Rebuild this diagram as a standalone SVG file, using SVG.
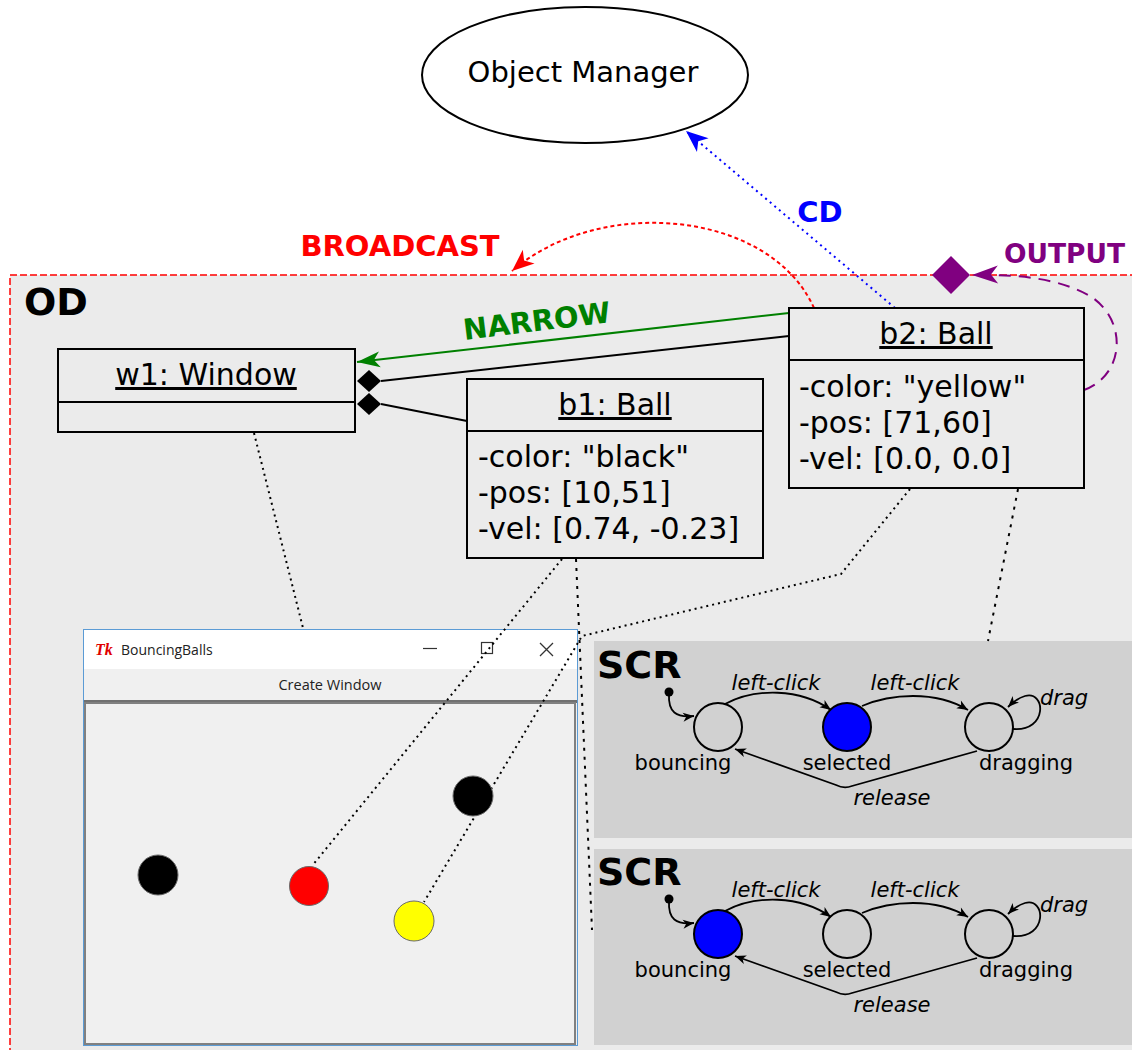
<svg xmlns="http://www.w3.org/2000/svg" width="1132" height="1050" viewBox="0 0 1132 1050">
<defs>
<style>
text{font-family:"DejaVu Sans","Liberation Sans",sans-serif;fill:#000}
.b{font-weight:bold}
.box{fill:#ebebeb;stroke:#000;stroke-width:2}
.n{font-size:30px}
.u{text-decoration:underline}
.dot{fill:none;stroke:#000;stroke-width:2;stroke-dasharray:2 4}
.dsh{fill:none;stroke:#000;stroke-width:2;stroke-dasharray:3 6}
.scrbg{fill:#d1d1d1}
.st{fill:#d1d1d1;stroke:#000;stroke-width:2}
.on{fill:#0000ff}
.se{fill:none;stroke:#000;stroke-width:1.8;marker-end:url(#aS)}
.it{font-style:italic;font-size:21px}
.sl{font-size:21px}
.scr{font-size:38px;font-weight:bold}
.lab{font-size:29px;font-weight:bold}
.ball{stroke:#6a6a6a;stroke-width:1}
.win{font-family:"Open Sans","Noto Sans",sans-serif;font-size:14px;fill:#222}
</style>
<marker id="aS" viewBox="-12 -6 13 12" refX="0" refY="0" markerWidth="13" markerHeight="12" markerUnits="userSpaceOnUse" orient="auto"><path d="M0,0 L-11,-4.5 L-8,0 L-11,4.5 Z" fill="#000"/></marker>
<marker id="aB" viewBox="-28 -12 30 24" refX="0" refY="0" markerWidth="30" markerHeight="24" markerUnits="userSpaceOnUse" orient="auto"><path d="M0,0 L-22,-9 L-16,0 L-22,9 Z" fill="#0000ff"/></marker>
<marker id="aR" viewBox="-28 -12 30 24" refX="0" refY="0" markerWidth="30" markerHeight="24" markerUnits="userSpaceOnUse" orient="auto"><path d="M0,0 L-22,-9 L-16,0 L-22,9 Z" fill="#ff0000"/></marker>
<marker id="aG" viewBox="-28 -12 30 24" refX="0" refY="0" markerWidth="30" markerHeight="24" markerUnits="userSpaceOnUse" orient="auto"><path d="M0,0 L-23,-8 L-17,0 L-23,8 Z" fill="#008000"/></marker>
<marker id="aP" viewBox="-28 -12 30 24" refX="0" refY="0" markerWidth="30" markerHeight="24" markerUnits="userSpaceOnUse" orient="auto"><path d="M0,0 L-26,-9 L-19,0 L-26,9 Z" fill="#800080"/></marker>
</defs>

<rect width="1132" height="1050" fill="#fff"/>

<g id="od-frame">
<rect x="10" y="275" width="1150" height="800" fill="#ebebeb" stroke="#ff0000" stroke-width="1.5" stroke-dasharray="7 3"/>
<text x="24" y="315" style="font-size:38px;font-weight:bold">OD</text>
</g>

<g id="scr1">
<rect class="scrbg" x="594" y="641" width="540" height="197"/>
<text class="scr" x="597" y="678">SCR</text>
<circle cx="669" cy="692" r="4.5" fill="#000"/>
<path class="se" d="M669,694 C668,712 676,718 694,716"/>
<circle class="st" cx="718" cy="727" r="24"/>
<circle class="st on" cx="847" cy="727" r="24"/>
<circle class="st" cx="989" cy="727" r="24"/>
<path class="se" d="M725,704 C755,688 800,688 831,710"/>
<path class="se" d="M862,706 C890,694 935,690 968,710"/>
<path class="se" d="M1013,729 C1048,732 1046,690 1025,696 C1018,698 1012,703 1008,707"/>
<path class="se" d="M977,751 L852,786 Q844,789 836,785 L735,749"/>
<text class="it" x="776" y="690" text-anchor="middle">left-click</text>
<text class="it" x="915" y="690" text-anchor="middle">left-click</text>
<text class="it" x="1040" y="705">drag</text>
<text class="it" x="892" y="805" text-anchor="middle">release</text>
<text class="sl" x="683" y="770" text-anchor="middle">bouncing</text>
<text class="sl" x="847" y="770" text-anchor="middle">selected</text>
<text class="sl" x="1026" y="770" text-anchor="middle">dragging</text>
</g>

<g id="scr2" transform="translate(0,207)">
<rect class="scrbg" x="594" y="642" width="540" height="196"/>
<text class="scr" x="597" y="678">SCR</text>
<circle cx="669" cy="692" r="4.5" fill="#000"/>
<path class="se" d="M669,694 C668,712 676,718 694,716"/>
<circle class="st on" cx="718" cy="727" r="24"/>
<circle class="st" cx="847" cy="727" r="24"/>
<circle class="st" cx="989" cy="727" r="24"/>
<path class="se" d="M725,704 C755,688 800,688 831,710"/>
<path class="se" d="M862,706 C890,694 935,690 968,710"/>
<path class="se" d="M1013,729 C1048,732 1046,690 1025,696 C1018,698 1012,703 1008,707"/>
<path class="se" d="M977,751 L852,786 Q844,789 836,785 L735,749"/>
<text class="it" x="776" y="690" text-anchor="middle">left-click</text>
<text class="it" x="915" y="690" text-anchor="middle">left-click</text>
<text class="it" x="1040" y="705">drag</text>
<text class="it" x="892" y="805" text-anchor="middle">release</text>
<text class="sl" x="683" y="770" text-anchor="middle">bouncing</text>
<text class="sl" x="847" y="770" text-anchor="middle">selected</text>
<text class="sl" x="1026" y="770" text-anchor="middle">dragging</text>
</g>

<g id="window-screenshot">
<rect x="83.5" y="629.5" width="494" height="416" fill="#f0f0f0" stroke="#5b9bd5"/>
<rect x="84" y="630" width="493" height="39" fill="#fff"/>
<text x="95" y="655" style="font-family:'Liberation Serif',serif;font-style:italic;font-weight:bold;font-size:16px;fill:#e00000">Tk</text>
<text class="win" x="121" y="655">BouncingBalls</text>
<line x1="423" y1="648.5" x2="437" y2="648.5" stroke="#333" stroke-width="1.2"/>
<rect x="481.5" y="642.5" width="11" height="11" fill="none" stroke="#333" stroke-width="1.2"/>
<path d="M540,643 L553,656 M553,643 L540,656" stroke="#333" stroke-width="1.3" fill="none"/>
<rect x="84" y="669" width="493" height="32" fill="#f0f0f0"/>
<text class="win" x="330" y="690" text-anchor="middle" style="font-size:14.5px">Create Window</text>
<line x1="84" y1="701.5" x2="577" y2="701.5" stroke="#707070" stroke-width="3"/>
<rect x="85" y="703" width="490" height="341" fill="#f0f0f0" stroke="#808080" stroke-width="2"/>
</g>

<g id="connectors">
<path class="dot" d="M254,433 L303,628"/>
<path class="dot" d="M562,559 L312,866"/>
<path class="dot" d="M910,489 L841,574 L582,636 L424,902"/>
<path class="dsh" d="M576,559 L592,930"/>
<path class="dsh" d="M1018,489 L988,641"/>
<path d="M814,308 C770,210 600,195 512,271" fill="none" stroke="#ff0000" stroke-width="2" stroke-dasharray="4 3" marker-end="url(#aR)"/>
<path d="M895,308 L686,131" fill="none" stroke="#0000ff" stroke-width="2" stroke-dasharray="2 4" marker-end="url(#aB)"/>
<path d="M789,313 L357,362" fill="none" stroke="#008000" stroke-width="2" marker-end="url(#aG)"/>
<path d="M381,381 L789,336" fill="none" stroke="#000" stroke-width="2"/>
<path d="M381,404 L467,421" fill="none" stroke="#000" stroke-width="2"/>
<polygon points="357,381 369,370 381,381 369,392" fill="#000"/>
<polygon points="357,404 369,393 381,404 369,415" fill="#000"/>
<path d="M1084,390 C1125,375 1128,320 1090,296 C1060,279 1020,274 972,275" fill="none" stroke="#800080" stroke-width="2" stroke-dasharray="12 8" marker-end="url(#aP)"/>
<polygon points="932,275 951,256 970,275 951,294" fill="#800080"/>
<text class="lab" x="400" y="256" text-anchor="middle" style="fill:#ff0000">BROADCAST</text>
<text class="lab" x="820" y="222" text-anchor="middle" style="fill:#0000ff">CD</text>
<text class="lab" x="1004" y="263" style="fill:#800080;font-size:26.5px">OUTPUT</text>
<text class="lab" x="538" y="331" text-anchor="middle" transform="rotate(-7 538 331)" style="fill:#008000">NARROW</text>
</g>

<g id="balls">
<circle class="ball" cx="158" cy="875" r="20" fill="#000"/>
<circle class="ball" cx="309" cy="886" r="19.5" fill="#ff0000"/>
<circle class="ball" cx="414" cy="921" r="20" fill="#ffff00"/>
<circle class="ball" cx="473" cy="796" r="20" fill="#000"/>
</g>

<g id="w1">
<rect class="box" x="58" y="349" width="297" height="83"/>
<line x1="58" y1="402" x2="355" y2="402" stroke="#000" stroke-width="2"/>
<text class="n u" x="206" y="385" text-anchor="middle">w1: Window</text>
</g>

<g id="b1">
<rect class="box" x="467" y="379" width="296" height="179"/>
<line x1="467" y1="431" x2="763" y2="431" stroke="#000" stroke-width="2"/>
<text class="n u" x="615" y="415" text-anchor="middle">b1: Ball</text>
<text class="n" x="478" y="467">-color: "black"</text>
<text class="n" x="478" y="503">-pos: [10,51]</text>
<text class="n" x="478" y="539">-vel: [0.74, -0.23]</text>
</g>

<g id="b2">
<rect class="box" x="789" y="308" width="295" height="180"/>
<line x1="789" y1="360" x2="1084" y2="360" stroke="#000" stroke-width="2"/>
<text class="n u" x="936" y="344" text-anchor="middle">b2: Ball</text>
<text class="n" x="799" y="397">-color: "yellow"</text>
<text class="n" x="799" y="433">-pos: [71,60]</text>
<text class="n" x="799" y="469">-vel: [0.0, 0.0]</text>
</g>

<g id="object-manager">
<ellipse cx="585" cy="75" rx="163" ry="68" fill="#fff" stroke="#000" stroke-width="2"/>
<text x="583" y="82" text-anchor="middle" style="font-size:29px">Object Manager</text>
</g>
</svg>
